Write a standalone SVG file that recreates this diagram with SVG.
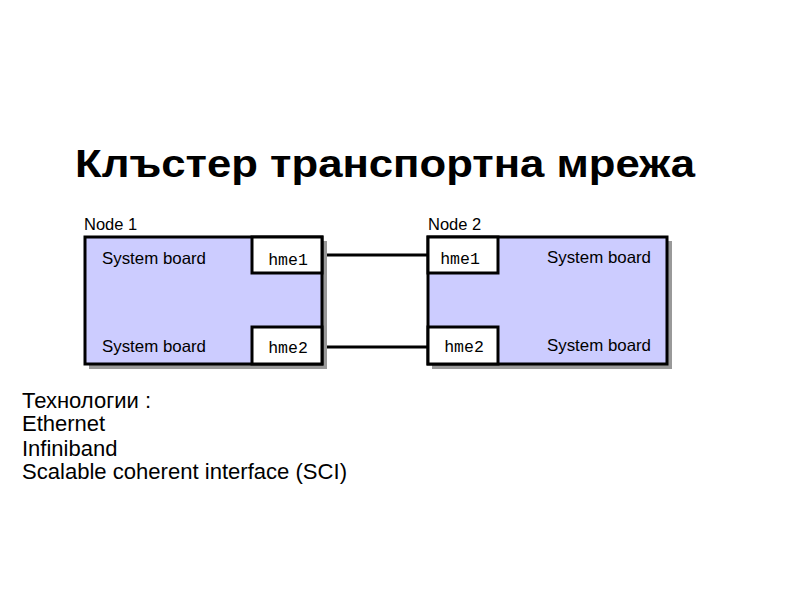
<svg xmlns="http://www.w3.org/2000/svg" width="794" height="595" viewBox="0 0 794 595">
<style>
.title{font-family:"Liberation Sans",Arial,sans-serif;font-weight:bold;font-size:38px;fill:#000}
.lbl{font-family:"Liberation Sans",Arial,sans-serif;font-size:16.5px;fill:#000}
.mono{font-family:"Liberation Mono","Courier New",monospace;font-size:16.5px;fill:#000}
.body{font-family:"Liberation Sans",Arial,sans-serif;font-size:22px;fill:#000}
.board{fill:#CCCCFF;stroke:#000;stroke-width:3}
.port{fill:#fff;stroke:#000;stroke-width:3}
.shadow{fill:#999}
.link{stroke:#000;stroke-width:3;fill:none}
</style>
<rect width="794" height="595" fill="#fff"/>
<text class="title" x="75" y="177" textLength="620" lengthAdjust="spacingAndGlyphs">Клъстер транспортна мрежа</text>
<g id="connectors">
<line class="link" x1="322" y1="255" x2="428" y2="255"/>
<line class="link" x1="322" y1="347" x2="428" y2="347"/>
</g>
<g id="node1">
<text class="lbl" x="84" y="230">Node 1</text>
<rect class="shadow" x="89" y="241" width="238" height="128"/>
<rect class="board" x="85" y="237" width="237" height="127"/>
<rect class="port" x="252" y="237" width="70" height="36"/>
<rect class="port" x="252" y="327" width="70" height="37"/>
<text class="lbl" x="102" y="264" textLength="104" lengthAdjust="spacingAndGlyphs">System board</text>
<text class="lbl" x="102" y="352" textLength="104" lengthAdjust="spacingAndGlyphs">System board</text>
<text class="mono" x="288" y="265" text-anchor="middle">hme1</text>
<text class="mono" x="288" y="353" text-anchor="middle">hme2</text>
</g>
<g id="node2">
<text class="lbl" x="428" y="230">Node 2</text>
<rect class="shadow" x="432" y="241" width="240" height="128"/>
<rect class="board" x="428" y="237" width="239" height="127"/>
<rect class="port" x="428" y="237" width="70" height="36"/>
<rect class="port" x="428" y="327" width="70" height="37"/>
<text class="lbl" x="547" y="263" textLength="104" lengthAdjust="spacingAndGlyphs">System board</text>
<text class="lbl" x="547" y="351" textLength="104" lengthAdjust="spacingAndGlyphs">System board</text>
<text class="mono" x="460" y="264" text-anchor="middle">hme1</text>
<text class="mono" x="464" y="352" text-anchor="middle">hme2</text>
</g>
<g id="technologies">
<text class="body" x="22" y="408">Технологии :</text>
<text class="body" x="22" y="431">Ethernet</text>
<text class="body" x="22" y="456">Infiniband</text>
<text class="body" x="22" y="479" textLength="325" lengthAdjust="spacingAndGlyphs">Scalable coherent interface (SCI)</text>
</g>
</svg>
